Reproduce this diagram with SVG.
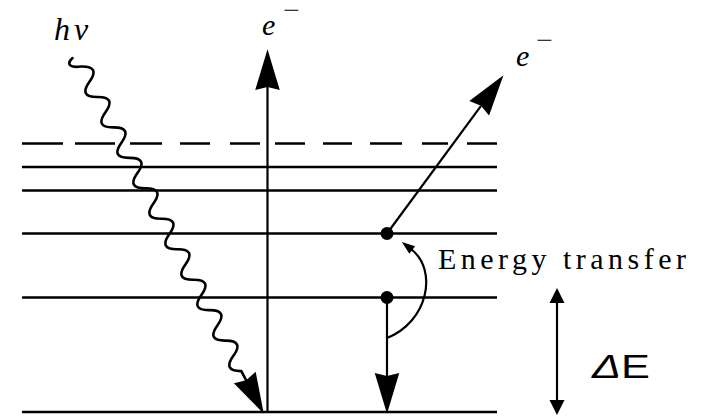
<svg xmlns="http://www.w3.org/2000/svg" width="702" height="419" viewBox="0 0 702 419">
<defs>
<style>
.lvl{stroke:#000;stroke-width:2.6;fill:none}
.ln{stroke:#000;stroke-width:2.2;fill:none}
.wave{stroke:#000;stroke-width:2.6;fill:none;stroke-linejoin:round;stroke-linecap:round}
.sf{font-family:'Liberation Serif','Times New Roman',Times,'DejaVu Serif',serif}
.ss{font-family:'Liberation Sans',Arial,Helvetica,sans-serif}
</style>
<marker id="big" markerUnits="userSpaceOnUse" markerWidth="44" markerHeight="28" viewBox="-1 -13 43 26" refX="3" refY="0" orient="auto">
<path d="M0,-12 L40,0 L0,12 L3,0 Z" fill="#000"/>
</marker>
<marker id="small" markerUnits="userSpaceOnUse" markerWidth="16" markerHeight="12" viewBox="-1 -6 17 12" refX="1" refY="0" orient="auto">
<path d="M0,-5 L14,0 L0,5 Z" fill="#000"/>
</marker>
<marker id="tick" markerUnits="userSpaceOnUse" markerWidth="17" markerHeight="17" viewBox="-1 -8 17 16" refX="0" refY="0" orient="auto-start-reverse">
<path d="M0,-7.5 L15,0 L0,7.5 Z" fill="#000"/>
</marker>
</defs>
<rect width="702" height="419" fill="#fff"/>

<g id="levels">
<path class="lvl" d="M22,143.5 H63 M75,143.5 H115 M130,143.5 H162 M180,143.5 H210 M230,143.5 H260 M275,143.5 H305 M323,143.5 H352 M370,143.5 H402 M422,143.5 H448 M467,143.5 H497"/>
<line class="lvl" x1="22" y1="167" x2="497" y2="167"/>
<line class="lvl" x1="22" y1="190.5" x2="497" y2="190.5"/>
<line class="lvl" x1="22" y1="233.5" x2="497" y2="233.5"/>
<line class="lvl" x1="22" y1="297.5" x2="497" y2="297.5"/>
<line class="lvl" x1="22" y1="412" x2="497" y2="412"/>
</g>

<g id="photon">
<path class="wave" marker-end="url(#big)" transform="translate(77,58) rotate(62.3)" d="M-2,4 C0,12 5.3,12 9.6,0 Q18.2,-17 26.8,0 T44,0 T61.2,0 T78.4,0 T95.6,0 T112.8,0 T130,0 T147.2,0 T164.4,0 T181.6,0 T198.8,0 T216,0 T233.2,0 T250.4,0 T267.6,0 T284.8,0 T302,0 T319.2,0 T336.4,0 T353.6,0 L364,0"/>
</g>

<g id="connectors">
<line class="ln" x1="267.5" y1="412" x2="267.5" y2="87" marker-end="url(#big)"/>
<line class="ln" x1="387" y1="233.5" x2="481" y2="105.8" marker-end="url(#big)"/>
<line class="ln" x1="387" y1="297.5" x2="387" y2="376" marker-end="url(#big)"/>
<path class="ln" d="M387,338 C428,322 438,270 411.5,249.5" marker-end="url(#small)"/>
<line class="ln" x1="557" y1="303" x2="557" y2="400" marker-start="url(#tick)" marker-end="url(#tick)"/>
</g>

<g id="electron-upper"><circle cx="387" cy="233.5" r="6.5" fill="#000"/></g>
<g id="electron-lower"><circle cx="387" cy="297.5" r="6.5" fill="#000"/></g>

<g id="labels" fill="#000">
<text class="sf" font-style="italic" font-size="32" y="40"><tspan x="54">h</tspan><tspan x="74">ν</tspan></text>
<text class="sf" font-style="italic" font-size="30" x="262" y="35">e</text>
<text class="sf" font-size="18" x="0" y="16.5" transform="translate(283,0) scale(1.65,1)">−</text>
<text class="sf" font-style="italic" font-size="30" x="516" y="66">e</text>
<text class="sf" font-size="18" x="0" y="46.5" transform="translate(536,0) scale(1.65,1)">−</text>
<text class="sf" font-size="30" x="438" y="269" textLength="248" lengthAdjust="spacing">Energy transfer</text>
<text class="ss" font-size="34" x="592" y="378" textLength="58" lengthAdjust="spacingAndGlyphs"><tspan font-style="italic">Δ</tspan>E</text>
</g>
</svg>
